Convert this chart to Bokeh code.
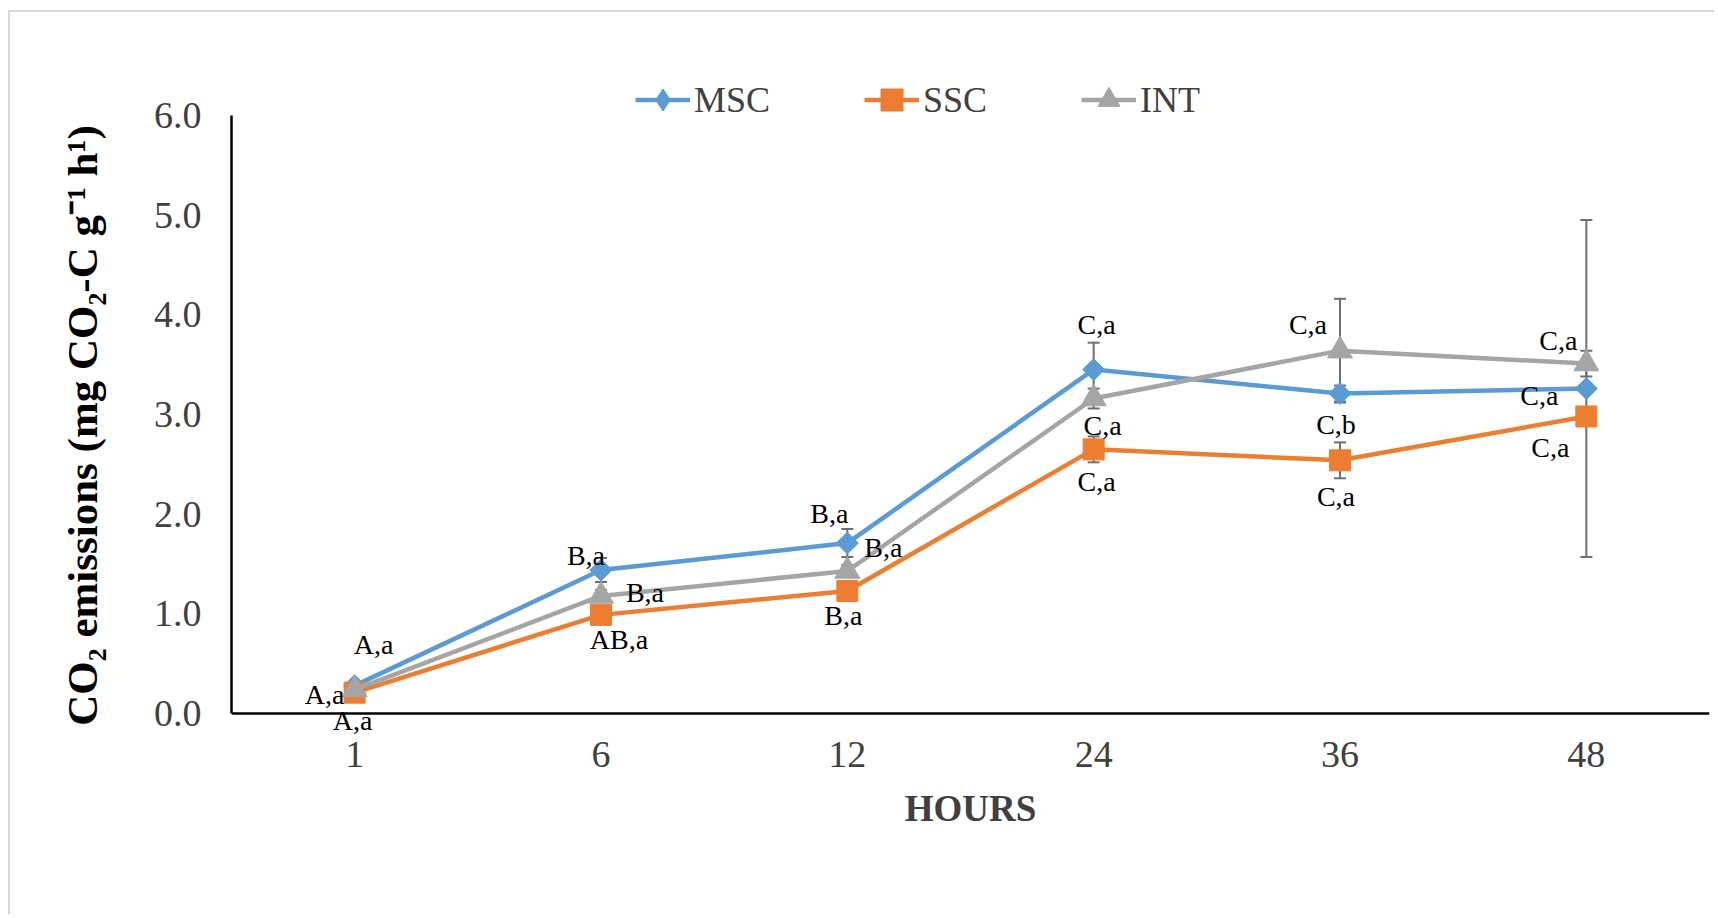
import math
from bokeh.plotting import figure
from bokeh.models import (ColumnDataSource, FactorRange, Whisker, TeeHead, Legend, LegendItem,
                          SingleIntervalTicker, NumeralTickFormatter, Span)
from bokeh.core.properties import value
from bokeh.embed import file_html
from bokeh.resources import INLINE

# ---- data ----
hours = ["1", "6", "12", "24", "36", "48"]
msc = [0.28, 1.44, 1.71, 3.45, 3.21, 3.26]
ssc = [0.21, 0.99, 1.23, 2.65, 2.54, 2.98]
intv = [0.24, 1.18, 1.43, 3.16, 3.64, 3.51]
msc_err = [0.02, 0.12, 0.14, 0.27, 0.08, 1.69]
ssc_err = [0.02, 0.04, 0.04, 0.13, 0.18, 0.05]
int_err = [0.02, 0.06, 0.06, 0.10, 0.52, 0.13]
msc_lab = ["A,a", "B,a", "B,a", "C,a", "C,b", "C,a"]
ssc_lab = ["A,a", "AB,a", "B,a", "C,a", "C,a", "C,a"]
int_lab = ["A,a", "B,a", "B,a", "C,a", "C,a", "C,a"]
y_ticks_min, y_ticks_max = 0, 6

# label placement (pixels, screen: +x right, +y down)
msc_dx = [19, -15, -18, 3, -4, -47]
msc_dy = [-41, -15, -30, -45, 31, 7]
ssc_dx = [-2, 18, -4, 3, -4, -36]
ssc_dy = [28, 25, 25, 32, 36, 31]
int_dx = [-30, 44, 36, 9, -32, -28]
int_dy = [5, -3, -23, 27, -26, -23]

FONT = "Liberation Serif"
C_MSC, C_SSC, C_INT = "#5B9BD5", "#ED7D31", "#A5A5A5"

p = figure(width=1706, height=904, x_range=FactorRange(factors=hours), y_range=(-0.24, 6.45),
           output_backend="svg", toolbar_location=None,
           min_border_left=221, min_border_right=7, min_border_top=58, min_border_bottom=179,
           background_fill_color="white", border_fill_color="white")
p.styles = {"margin-left": "8px", "margin-top": "10px",
            "border-left": "2px solid #d9d9d9", "border-top": "2px solid #d9d9d9"}
p.outline_line_color = None
p.xgrid.grid_line_color = None
p.ygrid.grid_line_color = None

# name, values, errors, labels, dx, dy, colour, plot marker, angle, size, legend marker
series = [
    ("MSC", msc, msc_err, msc_lab, msc_dx, msc_dy, C_MSC, "square", math.pi / 4, 15.5, "diamond"),
    ("SSC", ssc, ssc_err, ssc_lab, ssc_dx, ssc_dy, C_SSC, "square", 0.0, 21, None),
    ("INT", intv, int_err, int_lab, int_dx, int_dy, C_INT, "triangle", 0.0, 25, None),
]

# x axis line at y = 0
p.add_layout(Span(location=y_ticks_min, dimension="width", line_color="black", line_width=2.5))

# error bars first
for name, ys, errs, labs, dxs, dys, col, mk, ang, sz, lmk in series:
    src = ColumnDataSource(dict(x=hours, lo=[y - e for y, e in zip(ys, errs)],
                                hi=[y + e for y, e in zip(ys, errs)]))
    w = Whisker(base="x", lower="lo", upper="hi", source=src, dimension="height",
                line_color="#6f6f6f", line_width=2,
                upper_head=TeeHead(size=12, line_color="#6f6f6f", line_width=2),
                lower_head=TeeHead(size=12, line_color="#6f6f6f", line_width=2))
    p.add_layout(w)

items = []
for name, ys, errs, labs, dxs, dys, col, mk, ang, sz, lmk in series:
    src = ColumnDataSource(dict(x=hours, y=ys))
    lr = p.line("x", "y", source=src, line_color=col, line_width=4.5)
    rends = [lr]
    if lmk is not None:
        # tiny proxy (hidden under the plot markers) that gives the legend its diamond
        proxy = p.scatter("x", "y", source=src, marker=lmk, size=1, fill_color=col, line_color=col)
        rends.append(proxy)
    sr = p.scatter("x", "y", source=src, marker=mk, size=sz, angle=ang,
                   fill_color=col, line_color=col)
    if lmk is None:
        rends.append(sr)
    items.append(LegendItem(label=name, renderers=rends))

for name, ys, errs, labs, dxs, dys, col, mk, ang, sz, lmk in series:
    src = ColumnDataSource(dict(x=hours, y=ys, t=labs, dx=dxs, dy=dys))
    p.text("x", "y", text="t", source=src, x_offset="dx", y_offset="dy",
           text_align="center", text_baseline="middle", text_font=value(FONT),
           text_font_size="28px", text_color="black")

legend = Legend(items=items, orientation="horizontal", location=(404, 610),
                glyph_width=55, glyph_height=55, label_standoff=4, spacing=94,
                padding=0, margin=0, border_line_alpha=0, background_fill_alpha=0,
                label_text_font=FONT, label_text_font_size="36px", label_text_color="#404040")
p.add_layout(legend, "center")

# axes
p.yaxis.ticker = SingleIntervalTicker(interval=1)
p.yaxis.formatter = NumeralTickFormatter(format="0.0")
p.yaxis.bounds = (y_ticks_min, y_ticks_max)
for ax in (p.xaxis[0], p.yaxis[0]):
    ax.major_tick_out = 0
    ax.major_tick_in = 0
    ax.minor_tick_out = 0
    ax.minor_tick_in = 0
    ax.axis_line_color = "black"
    ax.axis_line_width = 2.5
    ax.major_label_text_font = FONT
    ax.major_label_text_font_size = "38px"
    ax.major_label_text_color = "#404040"
    ax.axis_label_text_font = FONT
    ax.axis_label_text_font_style = "bold"
p.xaxis.axis_line_color = None

p.yaxis.major_label_standoff = 30
# trailing non-breaking spaces shift the centred title down, as in the original
p.yaxis.axis_label = "CO\u2082 emissions (mg CO\u2082-C g\u207b\u00b9 h\u00b9)" + "\u00a0" * 4
p.yaxis.axis_label_text_font_size = "43px"
p.yaxis.axis_label_text_color = "black"
p.yaxis.axis_label_standoff = 45

p.xaxis.major_label_standoff = 4
p.xaxis.axis_label = "HOURS"
p.xaxis.axis_label_text_font_size = "37px"
p.xaxis.axis_label_text_color = "#404040"
p.xaxis.axis_label_standoff = 18

open("out.html", "w").write(file_html(p, INLINE))
